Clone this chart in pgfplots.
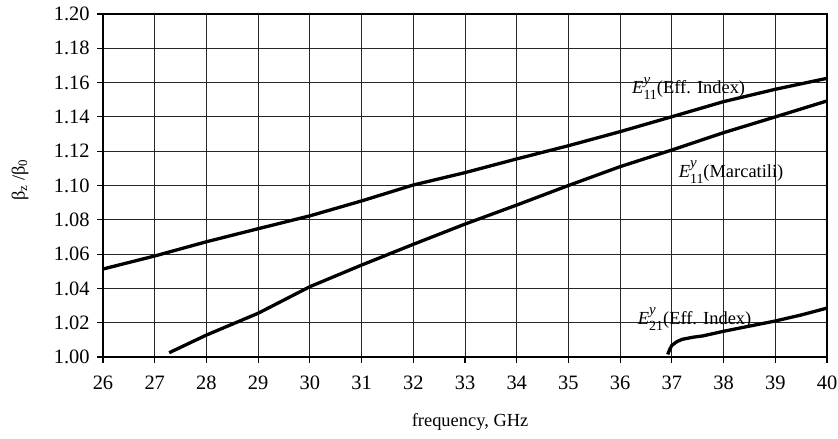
\documentclass[border=0pt]{standalone}
\usepackage{amsmath}
\usepackage{fontspec}
\setmainfont{Liberation Serif}
\usepackage{pgfplots}
\pgfplotsset{compat=1.18}
\newcommand{\Eyl}[1]{\textit{E}\rlap{\raisebox{0.52em}{\fontsize{15}{15}\selectfont\textit{y}}}\raisebox{-0.33em}{\fontsize{14}{14}\selectfont #1}}
\begin{document}
\fontsize{18.5}{22}\selectfont
\begin{tikzpicture}
\useasboundingbox (0,0) rectangle (838bp,439bp);
\begin{axis}[
  at={(103bp,82bp)}, anchor=south west,
  scale only axis, width=724bp, height=343bp,
  xmin=26, xmax=40, ymin=1.00, ymax=1.20,
  xtick={26,27,...,40},
  ytick={1.00,1.02,...,1.201},
  yticklabel style={/pgf/number format/fixed,/pgf/number format/fixed zerofill,/pgf/number format/precision=2},
  /pgf/number format/assume math mode=true,
  tick label style={font=\fontsize{20.5}{24}\selectfont},
  grid=major,
  major grid style={black!85, line width=0.9bp},
  axis line style={black, line width=1.1bp},
  tick style={black, line width=1.1bp},
  tick align=outside,
  major tick length=6bp,
  xtick pos=bottom, ytick pos=left,
  xticklabel style={yshift=-7bp},
  yticklabel style={xshift=-1bp},
  xlabel={frequency, GHz},
  ylabel={β\textsubscript{z} /β\textsubscript{0}},
  xlabel style={at={(axis description cs:0.507,-0.19)}, anchor=center},
  ylabel style={at={(axis description cs:-0.1146,0.516)}, anchor=center},
  clip=false,
]
\addplot[black, line width=3.3bp] coordinates {
(26,1.0513) (27,1.0589) (28,1.0672) (29,1.0748) (30,1.0823) (31,1.0910) (32,1.1003)
(33,1.1075) (34,1.1155) (35,1.1232) (36,1.1314) (37,1.1401) (38,1.1489) (39,1.1561) (40,1.1625)};
\addplot[black, line width=3.3bp] coordinates {
(27.28,1.0025) (28,1.0128) (29,1.0255) (30,1.0410) (31,1.0536) (32,1.0657) (33,1.0775)
(34,1.0886) (35,1.1000) (36,1.1110) (37,1.1207) (38,1.1308) (39,1.1400) (40,1.1493)};
\addplot[black, line width=3.3bp] coordinates {
(36.92,1.0015) (36.96,1.0045) (37.0,1.0068) (37.1,1.0090) (37.2,1.0103) (37.4,1.0115)
(37.6,1.0123) (38,1.0150) (38.5,1.0180) (39,1.0210) (39.5,1.0245) (40,1.0285)};
\node[anchor=base west, inner sep=0pt] at (axis cs:36.23,1.1535) {\Eyl{11}(Eff. Index)};
\node[anchor=base west, inner sep=0pt] at (axis cs:37.13,1.1047) {\Eyl{11}(Marcatili)};
\node[anchor=base west, inner sep=0pt] at (axis cs:36.34,1.0192) {\Eyl{21}(Eff. Index)};
\end{axis}
\end{tikzpicture}
\end{document}
